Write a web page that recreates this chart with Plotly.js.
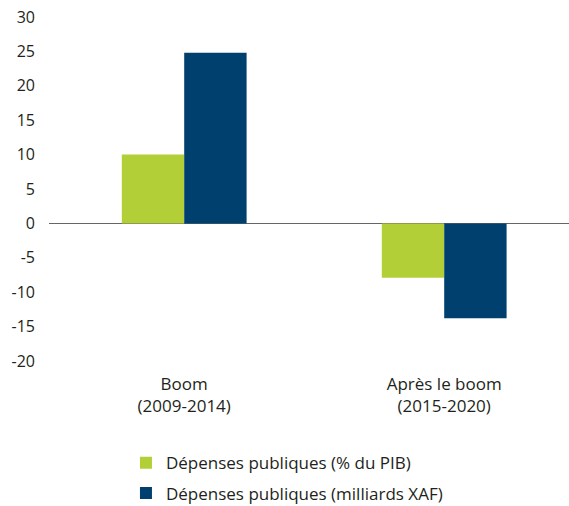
<!DOCTYPE html>
<html>
<head>
<meta charset="utf-8">
<script src="https://cdn.plot.ly/plotly-3.0.1.min.js"></script>
<style>html,body{margin:0;padding:0;background:#fff;}#chart{width:569px;height:506px;}</style>
</head>
<body>
<div id="chart"></div>
<script>
var categories = ["Boom<br>(2009-2014)", "Après le boom<br>(2015-2020)"];
var seriesNames = ["Dépenses publiques (% du PIB)", "Dépenses publiques (milliards XAF)"];
var pibValues = [10.0, -7.9];
var xafValues = [24.8, -13.8];
var yTicks = [30, 25, 20, 15, 10, 5, 0, -5, -10, -15, -20];
var yTickLabels = ["30", "25", "20", "15", "10", "5", "0", "-5", "-10", "-15", "-20"];

var fontFam = "'Open Sans', sans-serif";
var textColor = "#231f20";

var traces = [
  {type: "bar", x: categories, y: pibValues, name: seriesNames[0],
   marker: {color: "#b3cf38"}, legendgroup: "a", hoverinfo: "none"},
  {type: "bar", x: categories, y: xafValues, name: seriesNames[1],
   marker: {color: "#00406e"}, legendgroup: "b", hoverinfo: "none"}
];

var layout = {
  width: 569, height: 506,
  margin: {l: 49, r: 0, t: 17, b: 145, autoexpand: false},
  paper_bgcolor: "#fff", plot_bgcolor: "#fff",
  font: {family: fontFam, size: 17, color: textColor},
  barmode: "group", bargap: 0.52, bargroupgap: 0,
  showlegend: true,
  legend: {x: 0.148, xref: "paper", y: 0.12, yref: "container", xanchor: "left", yanchor: "top",
           orientation: "v", traceorder: "grouped", tracegroupgap: 5,
           font: {family: fontFam, size: 17, color: textColor}},
  xaxis: {type: "category", range: [-0.52, 1.48], showgrid: false, showline: false,
          ticks: "", ticklabelstandoff: 11, tickfont: {size: 17}, fixedrange: true, automargin: false},
  yaxis: {range: [-20, 30], tickvals: yTicks, ticktext: yTickLabels, showgrid: false, zeroline: true,
          zerolinecolor: "#666", zerolinewidth: 1, showline: false, ticks: "",
          ticklabelstandoff: 13, tickfont: {size: 16}, fixedrange: true, automargin: false}
};

Plotly.newPlot("chart", traces, layout, {displayModeBar: false, staticPlot: true});
</script>
</body>
</html>
